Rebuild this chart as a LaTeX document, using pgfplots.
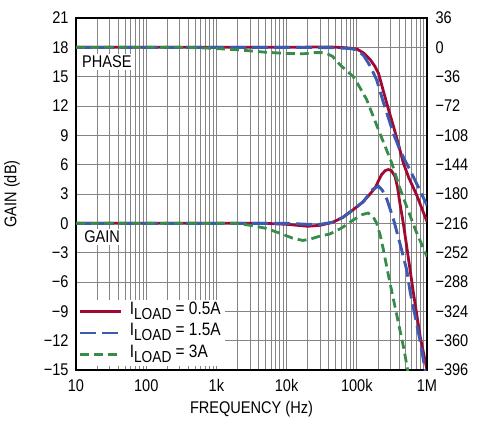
\documentclass[border=0pt]{standalone}
\usepackage{fontspec}
\setmainfont{Liberation Sans}[FakeStretch=0.86]
\usepackage{pgfplots}
\pgfplotsset{compat=1.18}
\definecolor{cred}{RGB}{160,10,50}
\definecolor{cblue}{RGB}{60,90,175}
\definecolor{cgreen}{RGB}{55,140,75}
\newcommand{\fs}{\fontsize{17}{20}\selectfont}
\newcommand{\iload}{I\raisebox{-5bp}{\fontsize{16}{16}\selectfont LOAD}}
\begin{document}
\begin{tikzpicture}[x=1bp,y=1bp]
\path[use as bounding box] (0,0) rectangle (480,421);
\begin{axis}[
  at={(76bp,51bp)}, anchor=south west,
  width=351bp, height=352bp, scale only axis,
  xmode=log, xmin=10, xmax=1e6,
  ymin=-15, ymax=21, ytick={-15,-12,...,21},
  yticklabels={−15,−12,−9,−6,−3,0,3,6,9,12,15,18,21},
  xtick={10,100,1000,10000,100000,1000000},
  xticklabels={10,100,1k,10k,100k,1M},
  xmajorgrids, xminorgrids, ymajorgrids,
  major grid style={black!48, line width=0.8bp},
  minor grid style={black!48, line width=0.8bp},
  tick style={draw=none},
  axis line style={line width=1.3bp},
  yticklabel style={font=\fs, xshift=-4bp},
  xticklabel style={font=\fs, yshift=-6bp},
  xlabel={FREQUENCY (Hz)}, ylabel={GAIN (dB)},
  every axis x label/.style={at={(axis description cs:0.5,-0.111)}, anchor=center, font=\fs},
  every axis y label/.style={at={(axis description cs:-0.182,0.5)}, rotate=90, anchor=center, font=\fs},
  legend cell align=left,
  legend style={at={(0.002,0.01)}, anchor=south west, fill=white, draw=none,
    font=\fontsize{18}{20}\selectfont, inner xsep=2bp, inner ysep=1bp, row sep=0bp,
    nodes={text height=13bp, text depth=7.5bp, inner ysep=0.5bp},
    /tikz/every odd column/.append style={column sep=5bp}},
  legend image code/.code={\draw[#1] (0bp,0bp) -- (41bp,0bp);},
  clip=true,
]
\addplot[cred, line width=2.8bp] table {
10 0
5000 0
10000 -0.1
20000 -0.3
30000 -0.2
45000 0.1
63000 0.6
89000 1.4
123000 2.2
150000 2.9
181000 3.6
226000 5.0
255000 5.4
282000 5.5
310000 5.4
350000 4.8
380000 3.7
410000 2.1
450000 0.4
490000 -1.35
575000 -4.8
640000 -7.1
720000 -9.5
800000 -11.6
1000000 -15
};
\addlegendentry{\iload{} = 0.5A}
\addplot[cblue, line width=2.9bp, dash pattern=on 16bp off 6bp] table {
10 0
10000 0
20000 -0.1
30000 -0.1
45000 0.1
63000 0.6
89000 1.4
123000 2.2
150000 3.0
170000 3.5
204000 3.8
230000 3.4
270000 2.4
333000 0.4
410000 -2.0
515000 -4.8
575000 -7.0
700000 -10
800000 -12.1
940000 -15
1000000 -16
};
\addlegendentry{\iload{} = 1.5A}
\addplot[cgreen, line width=2.8bp, dash pattern=on 9bp off 5bp] table {
10 0
1000 0
2000 0
3000 -0.2
5000 -0.5
8000 -1.0
12000 -1.5
17000 -1.75
22000 -1.6
30000 -1.3
41000 -1.1
60000 -0.5
89000 0.35
120000 0.9
145000 1.05
170000 0.7
192000 0.0
215000 -1.2
236000 -2.5
280000 -5.2
333000 -7.8
400000 -10.5
470000 -12.9
530000 -15
600000 -17
};
\addlegendentry{\iload{} = 3A}
\node[anchor=west, fill=white, inner sep=2bp, font=\fs] at (axis cs:11.4,16.5) {PHASE};
\node[anchor=west, fill=white, inner sep=2bp, font=\fs] at (axis cs:12.2,-1.35) {GAIN};
\end{axis}
\begin{axis}[
  at={(76bp,51bp)}, anchor=south west,
  width=351bp, height=352bp, scale only axis,
  xmode=log, xmin=10, xmax=1e6,
  ymin=-396, ymax=36, ytick={-396,-360,...,36},
  yticklabels={−396,−360,−324,−288,−252,−216,−180,−144,−108,−72,−36,0,36},
  axis y line*=right, axis x line=none,
  tick style={draw=none},
  axis line style={line width=1.3bp},
  yticklabel style={font=\fs, xshift=5bp},
]
\addplot[cred, line width=2.8bp] table {
10 0
10000 0
40000 0.5
70000 -0.5
100000 -2
125000 -7
155000 -15
180000 -23
204000 -32
236000 -52
280000 -75
333000 -97
400000 -122
460000 -142
550000 -160
710000 -181
1000000 -214
};
\addplot[cblue, line width=2.9bp, dash pattern=on 16bp off 6bp] table {
10 0
10000 0
50000 -0.5
80000 -1.5
100000 -3
125000 -10
155000 -23
192000 -40
236000 -66
280000 -86
333000 -106
420000 -128
537000 -146
710000 -167
1000000 -194
};
\addplot[cgreen, line width=2.8bp, dash pattern=on 9bp off 5bp] table {
10 0
300 0
800 -1
2000 -3
5000 -6
10000 -7.5
17000 -8
25000 -6.5
35000 -6.5
45000 -11
57000 -21
70000 -28
89000 -36
110000 -49
138000 -64
170000 -84
214000 -106
260000 -124
315000 -142
400000 -170
515000 -196
700000 -226
1000000 -257
};
\end{axis}
\end{tikzpicture}
\end{document}
